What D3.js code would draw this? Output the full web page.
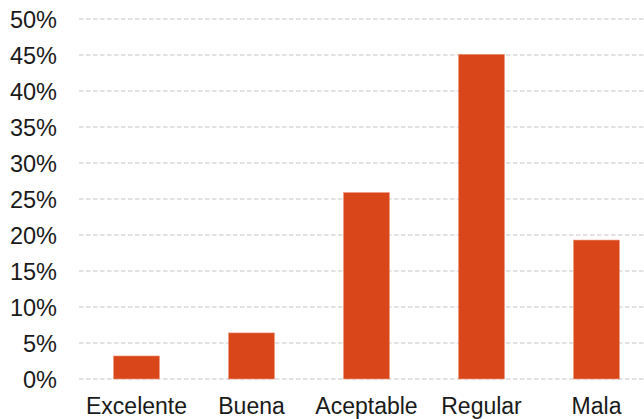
<!DOCTYPE html>
<html>
<head>
<meta charset="utf-8">
<script src="https://cdn.jsdelivr.net/npm/d3@7"></script>
<style>
html,body{margin:0;padding:0;background:#fff;}
svg{display:block;}
text{font-family:"Liberation Sans",Arial,sans-serif;fill:#1a1a1a;}
</style>
</head>
<body>
<svg id="chart" width="644" height="419"></svg>
<script>
const categories = ["Excelente","Buena","Aceptable","Regular","Mala"];
const values = [0.032, 0.064, 0.259, 0.451, 0.193];
const yTicks = [0,0.05,0.10,0.15,0.20,0.25,0.30,0.35,0.40,0.45,0.50];

const svg = d3.select("#chart");
const x = d3.scaleBand().domain(categories).range([79, 654]).padding(0);
const y = d3.scaleLinear().domain([0, 0.5]).range([379, 19]);
const barW = x.bandwidth() * 0.4;

// gridlines
svg.append("g").selectAll("line").data(yTicks).join("line")
  .attr("x1", 79).attr("x2", 644)
  .attr("y1", d => y(d)).attr("y2", d => y(d))
  .attr("stroke", "#d9d9d9").attr("stroke-width", 1.3)
  .attr("stroke-dasharray", "4.5,2.5");

// y axis labels
const yAxis = d3.axisLeft(y).tickValues(yTicks).tickFormat(d3.format(".0%")).tickSize(0).tickPadding(0);
const gy = svg.append("g").attr("transform", "translate(57,0)").call(yAxis);
gy.select(".domain").remove();
gy.selectAll("text").attr("font-size", "23.5px").attr("font-family", "Liberation Sans, Arial, sans-serif").attr("fill", "#1a1a1a").attr("dy", "0.36em");

// bars
svg.append("g").selectAll("rect").data(categories).join("rect")
  .attr("x", d => x(d) + x.bandwidth()/2 - barW/2)
  .attr("width", barW)
  .attr("y", (d,i) => y(values[i]))
  .attr("height", (d,i) => y(0) - y(values[i]))
  .attr("fill", "#d9461a")
  .attr("stroke", "#ec9a80").attr("stroke-width", 0.6);

// x labels
const xAxis = d3.axisBottom(x).tickSize(0).tickPadding(0);
const gx = svg.append("g").attr("transform", "translate(0,414)").call(xAxis);
gx.select(".domain").remove();
gx.selectAll("text").attr("font-size", "23px").attr("font-family", "Liberation Sans, Arial, sans-serif").attr("fill", "#1a1a1a").attr("dy", "0");
</script>
</body>
</html>
